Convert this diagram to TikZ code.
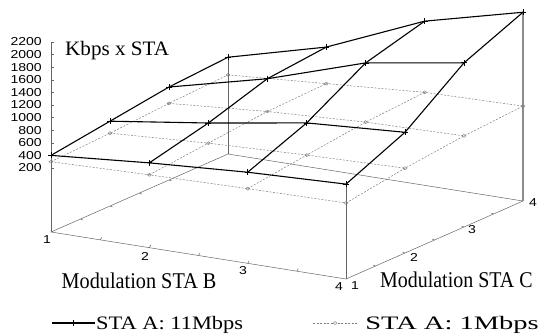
\documentclass[tikz,border=0pt]{standalone}
\usepackage{fontspec}
\setmainfont{Liberation Serif}
\newfontfamily\axisfont{Liberation Sans}
\usetikzlibrary{calc}

% Oblique projection of the (B, C, Kbps) space onto the page
\newcommand\projx[2]{51+(#1-1)*98.333+(#2-1)*59}
\newcommand\projy[3]{232+(#1-1)*15.667-(#2-1)*26-((#3)+816)*0.063}

\tikzset{
  frame/.style={draw=black!60, line width=0.5pt},
  backframe/.style={draw=black!45, line width=1.2pt},
  fast/.style={draw=black, line width=1.1pt},
  slow/.style={draw=black!50, line width=0.5pt, dash pattern=on 2pt off 1.5pt},
  ticklab/.style={font=\axisfont\fontsize{11.5}{12}\selectfont, xscale=1.22, inner sep=0pt},
  title/.style={font=\fontsize{20.5}{24}\selectfont, inner sep=0pt},
  axtitle/.style={font=\fontsize{22.5}{26}\selectfont, inner sep=0pt, xscale=0.9},
  fastmark/.style={draw=black, line width=0.8pt},
  slowmark/.style={draw=black!50, line width=0.45pt},
}

\begin{document}
\begin{tikzpicture}[x=1pt, y=-1pt]
\useasboundingbox (0,0) rectangle (544,333);

% ---- floor corners and axis corners ----
\coordinate (f11) at ({\projx{1}{1}}, {\projy{1}{1}{-816}});
\coordinate (f41) at ({\projx{4}{1}}, {\projy{4}{1}{-816}});
\coordinate (f14) at ({\projx{1}{4}}, {\projy{1}{4}{-816}});
\coordinate (f44) at ({\projx{4}{4}}, {\projy{4}{4}{-816}});
\coordinate (ztop) at ({\projx{1}{1}}, {\projy{1}{1}{2200}});

% ---- measured throughput (Kbps x STA), rows C = 1..4, columns B = 1..4 ----
\def\fastrows{{400,530,630,690},{530,750,1000,1100},{660,1040,1540,1790},{720,1130,1790,2180}}
\def\slowrows{{300,340,370,390},{340,430,490,530},{400,520,600,630},{440,550,660,690}}

\foreach \c [count=\ci] in {1,2,3,4} {
  \foreach \b in {1,2,3,4} {
    \pgfmathsetmacro\zf{{\fastrows}[\ci-1][\b-1]}
    \pgfmathsetmacro\zs{{\slowrows}[\ci-1][\b-1]}
    \coordinate (s-\b-\c) at ({\projx{\b}{\c}}, {\projy{\b}{\c}{\zf}});
    \coordinate (d-\b-\c) at ({\projx{\b}{\c}}, {\projy{\b}{\c}{\zs}});
  }
}

% ---- box ----
\draw[frame] (f11) -- (f41) -- (f44) -- (f14) -- cycle;
\draw[frame] (f11) -- (ztop);
\draw[frame] (f14) -- (s-1-4);
\draw[frame] (f41) -- (s-4-1);
\draw[backframe] (f44) -- (s-4-4);

% ticks on the Kbps axis
\foreach \z in {200,400,...,2200} {
  \coordinate (zt) at ({\projx{1}{1}}, {\projy{1}{1}{\z}});
  \draw[frame] (zt) -- ++(3,0);
  \node[ticklab, anchor=east] at ($(zt)+(-9,0)$) {\z};
}
% small ticks along the floor edges
\foreach \t in {1.5,2,2.5,3,3.5} {
  \draw[frame] ({\projx{\t}{1}}, {\projy{\t}{1}{-816}}) -- ++(1.5,-2.5);
  \draw[frame] ({\projx{4}{\t}}, {\projy{4}{\t}{-816}}) -- ++(-2.5,-1);
  \draw[frame] ({\projx{1}{\t}}, {\projy{1}{\t}{-816}}) -- ++(2.5,1);
}

% axis numbers
\node[ticklab] at (47,240) {1};
\node[ticklab] at (145,256) {2};
\node[ticklab] at (243,271) {3};
\node[ticklab] at (339,287) {4};
\node[ticklab] at (355,286) {1};
\node[ticklab] at (414,257) {2};
\node[ticklab] at (472,230) {3};
\node[ticklab] at (533,203) {4};

% ---- 1 Mbps surface ----
\foreach \b in {1,2,3,4} {
  \draw[slow] (d-\b-1) -- (d-\b-2) -- (d-\b-3) -- (d-\b-4);
  \draw[slow] (d-1-\b) -- (d-2-\b) -- (d-3-\b) -- (d-4-\b);
}
\foreach \b in {1,2,3,4} \foreach \c in {1,2,3,4}
  \draw[slowmark] ($(d-\b-\c)+(-2,0)$) -- ++(2,-1.5) -- ++(2,1.5) -- ++(-2,1.5) -- cycle;

% ---- 11 Mbps surface ----
\foreach \b in {1,2,3,4} {
  \draw[fast] (s-\b-1) -- (s-\b-2) -- (s-\b-3) -- (s-\b-4);
  \draw[fast] (s-1-\b) -- (s-2-\b) -- (s-3-\b) -- (s-4-\b);
}
\foreach \b in {1,2,3,4} \foreach \c in {1,2,3,4} {
  \draw[fastmark] ($(s-\b-\c)+(0,-3)$) -- ++(0,6);
  \draw[fastmark] ($(s-\b-\c)+(-3,0)$) -- ++(6,0);
}

% ---- titles ----
\node[title, anchor=base west, xscale=1.03] (zlab) at (65,55) {Kbps x STA};
\node[axtitle, anchor=base west] (blab) at (61.5,288.5) {Modulation STA B};
\node[axtitle, anchor=base west, xscale=0.985] (clab) at (380,287.5) {Modulation STA C};

% ---- legend ----
\coordinate (l1a) at (52,323);
\coordinate (l1b) at (95,323);
\draw[fast] (l1a) -- (l1b);
\draw[fastmark] (73,320) -- (73,326);
\node[title, font=\fontsize{19}{22}\selectfont, anchor=base west, xscale=1.18] (leg1) at (96,329) {STA A: 11Mbps};

\coordinate (l2a) at (313,323);
\coordinate (l2b) at (357,323);
\draw[slow] (l2a) -- (l2b);
\draw[slowmark, fill=white] (333,323) -- ++(2,-1.5) -- ++(2,1.5) -- ++(-2,1.5) -- cycle;
\node[title, font=\fontsize{19}{22}\selectfont, anchor=base west, xscale=1.5] (leg2) at (365,329) {STA A: 1Mbps};
\end{tikzpicture}
\end{document}
